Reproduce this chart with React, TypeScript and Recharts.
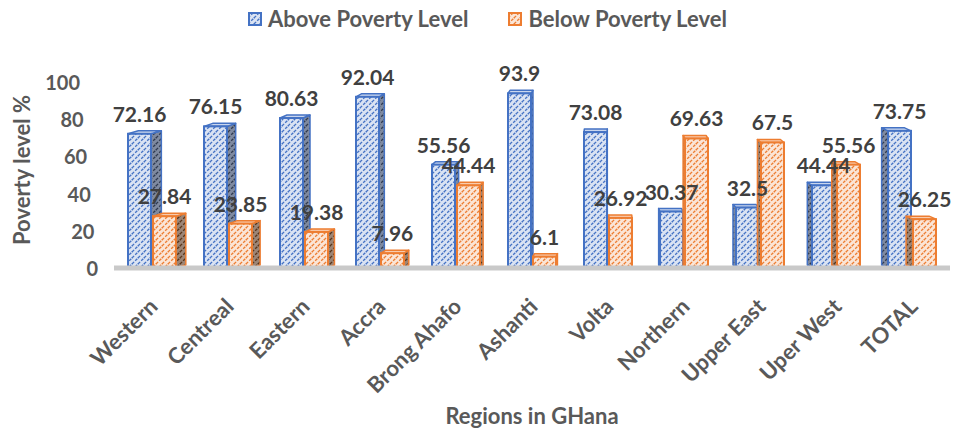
import React from 'react'
import { BarChart, Bar, XAxis, YAxis, LabelList } from 'recharts'

const CATEGORIES = ['Western', 'Centreal', 'Eastern', 'Accra', 'Brong Ahafo', 'Ashanti', 'Volta', 'Northern', 'Upper East', 'Uper West', 'TOTAL']
const ABOVE = [72.16, 76.15, 80.63, 92.04, 55.56, 93.9, 73.08, 30.37, 32.5, 44.44, 73.75]
const BELOW = [27.84, 23.85, 19.38, 7.96, 44.44, 6.1, 26.92, 69.63, 67.5, 55.56, 26.25]
const Y_TICKS = [0, 20, 40, 60, 80, 100]

const FONT = 'Lato, "Open Sans", sans-serif'
const GREY = '#595959'
const BLUE = '#4472C4'
const ORANGE = '#ED7D31'

// fake perspective: bars left of this point show their right side, right of it the left side
const VANISH_X = 610
const DEPTH_K = 0.022

const data = CATEGORIES.map((name, i) => ({ name, above: ABOVE[i], below: BELOW[i] }))

function make3D(front: string, side: string, top: string, stroke: string) {
  return (props: any) => {
    const { x, y, width: w, height: h } = props
    if (w == null || h == null || isNaN(x) || isNaN(y)) return null
    const d = (VANISH_X - (x + w / 2)) * DEPTH_K
    const t = 3
    const sideX = d > 0 ? x + w : x
    const sidePts = `${sideX},${y} ${sideX + d},${y - t} ${sideX + d},${y + h - t} ${sideX},${y + h}`
    const topPts = `${x},${y} ${x + w},${y} ${x + w + d},${y - t} ${x + d},${y - t}`
    return (
      <g>
        <polygon points={sidePts} fill={side} stroke={stroke} strokeWidth={1.5} strokeLinejoin="round" />
        <polygon points={topPts} fill={top} stroke={stroke} strokeWidth={1.5} strokeLinejoin="round" />
        <rect x={x} y={y} width={w} height={h} fill={front} stroke={stroke} strokeWidth={2} />
      </g>
    )
  }
}

const blueShape = make3D('url(#hatchBlue)', 'url(#hatchBlueSide)', '#c9d6ee', BLUE)
const orangeShape = make3D('url(#hatchOrange)', 'url(#hatchOrangeSide)', '#f8cbad', ORANGE)

function Hatch({ id, bg, line, w = 1.3 }: { id: string; bg: string; line: string; w?: number }) {
  return (
    <pattern id={id} patternUnits="userSpaceOnUse" width={6} height={6}>
      <rect width={6} height={6} fill={bg} />
      <path d="M-1,1 l2,-2 M0,6 l6,-6 M5,7 l2,-2" stroke={line} strokeWidth={w} strokeDasharray="3 1.5" />
    </pattern>
  )
}

const YTick = (props: any) => {
  const { y, payload } = props
  const right = 98 - payload.value * 0.18
  return (
    <text x={right} y={y} textAnchor="end" dominantBaseline="central" fill={GREY}
      style={{ fontFamily: FONT, fontWeight: 700, fontSize: 20 }}>
      {payload.value}
    </text>
  )
}

const XTick = (props: any) => {
  const { x, y, payload } = props
  const ax = x + 7
  const ay = y + 32
  return (
    <text x={ax} y={ay} textAnchor="end" transform={`rotate(-45, ${ax}, ${ay})`} fill={GREY}
      style={{ fontFamily: FONT, fontWeight: 700, fontSize: 22 }}>
      {payload.value}
    </text>
  )
}

const LegendIcon = ({ fill, stroke }: { fill: string; stroke: string }) => (
  <svg width={14} height={14} style={{ display: 'block' }}>
    <rect x={1} y={1} width={12} height={12} fill={fill} stroke={stroke} strokeWidth={2} />
  </svg>
)

export default function App() {
  return (
    <div style={{ position: 'relative', width: 953, height: 432, background: '#fff', fontFamily: FONT }}>
      <style>{'body{margin:0}'}</style>
      <svg width={0} height={0} style={{ position: 'absolute' }}>
        <defs>
          <Hatch id="hatchBlue" bg="#dae3f3" line={BLUE} />
          <Hatch id="hatchBlueSide" bg="#7f8aa0" line="#2f3a50" />
          <Hatch id="hatchOrange" bg="#fbe5d6" line={ORANGE} />
          <Hatch id="hatchOrangeSide" bg="#9c8576" line="#5a3418" />
        </defs>
      </svg>

      <div style={{ position: 'absolute', top: 5, left: 248, display: 'flex', alignItems: 'center', color: GREY, fontWeight: 700, fontSize: 22, whiteSpace: 'nowrap' }}>
        <LegendIcon fill="url(#hatchBlue)" stroke={BLUE} />
        <span style={{ marginLeft: 6 }}>Above Poverty Level</span>
        <span style={{ width: 40 }} />
        <LegendIcon fill="url(#hatchOrange)" stroke={ORANGE} />
        <span style={{ marginLeft: 6 }}>Below Poverty Level</span>
      </div>

      <BarChart width={953} height={432} data={data} margin={{ top: 82, right: 3, bottom: 14, left: 0 }}
        barSize={23} barGap={2}>
        <XAxis dataKey="name" interval={0} height={150} tickLine={false}
          axisLine={{ stroke: '#c9c9c9', strokeWidth: 5 }} tick={<XTick />}
          label={{
            content: () => (
              <text x={532} y={424} textAnchor="middle" fill={GREY}
                style={{ fontFamily: FONT, fontWeight: 700, fontSize: 22 }}>Regions in GHana</text>
            ),
          }} />
        <YAxis domain={[0, 100]} ticks={Y_TICKS} width={114} axisLine={false} tickLine={false} tick={<YTick />}
          label={{
            content: () => (
              <text x={30} y={170} textAnchor="middle" transform="rotate(-90, 30, 170)" fill={GREY}
                style={{ fontFamily: FONT, fontWeight: 700, fontSize: 22 }}>Poverty level %</text>
            ),
          }} />
        <Bar dataKey="above" name="Above Poverty Level" shape={blueShape} isAnimationActive={false}>
          <LabelList dataKey="above" position="top" offset={12} fill="#404040"
            style={{ fontFamily: FONT, fontWeight: 700, fontSize: 21 }} />
        </Bar>
        <Bar dataKey="below" name="Below Poverty Level" shape={orangeShape} isAnimationActive={false}>
          <LabelList dataKey="below" position="top" offset={12} fill="#404040"
            style={{ fontFamily: FONT, fontWeight: 700, fontSize: 21 }} />
        </Bar>
      </BarChart>
    </div>
  )
}
